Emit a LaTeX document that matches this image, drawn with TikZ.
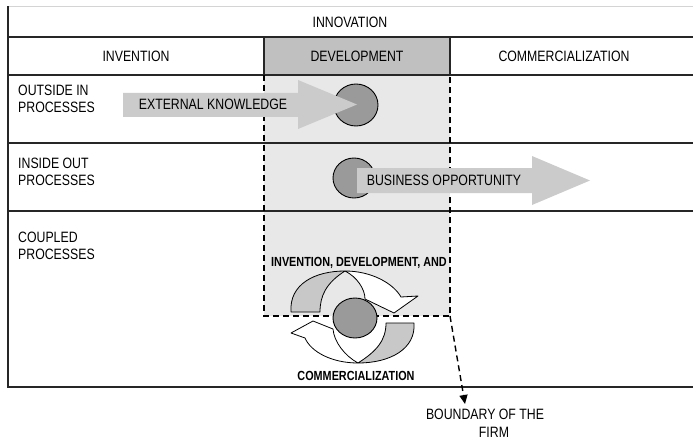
\documentclass[tikz,border=0pt]{standalone}
\usepackage{fontspec}
\setmainfont{Liberation Sans}[FakeStretch=0.82]
\usetikzlibrary{arrows.meta}
\definecolor{rule}{HTML}{262626}
\definecolor{faint}{HTML}{D4D4D4}
\definecolor{devhead}{HTML}{C0C0C0}
\definecolor{devbody}{HTML}{E8E8E8}
\definecolor{flow}{HTML}{CBCBCB}
\definecolor{firmcore}{HTML}{9A9A9A}
\definecolor{band}{HTML}{C8C8C8}
\begin{document}
\begin{tikzpicture}[x=1pt,y=-1pt,
  txt/.style={inner sep=0pt, font=\fontsize{15}{17}\selectfont},
  boldtxt/.style={inner sep=0pt, font=\fontsize{13.2}{15}\selectfont\bfseries},
  gridline/.style={draw=rule, line width=1.2pt},
  boundary/.style={draw=black, line width=1.4pt, dash pattern=on 6pt off 4pt},
  flowarrow/.style={fill=flow, draw=none},
  core/.style={fill=firmcore, draw=black, line width=0.9pt},
  ribbon/.style={draw=black, line width=0.8pt, line join=round}]
\useasboundingbox (0,0) rectangle (693,441);

% shaded development column
\fill[devhead] (264,37) rectangle (450,75);
\fill[devbody] (264,75) rectangle (450,316);

% table rules
\draw[faint, line width=1pt] (8,7) -- (693,7);
\draw[gridline] (8,37) -- (693,37);
\draw[gridline] (8,75) -- (693,75);
\draw[gridline] (8,143) -- (693,143);
\draw[gridline] (8,211) -- (693,211);
\draw[gridline] (8,387) -- (693,387);
\draw[gridline, line width=2pt] (8,6.5) -- (8,387.6);
\draw[gridline] (264,37) -- (264,75);
\draw[gridline] (450,37) -- (450,75);

% boundary of the firm
\draw[boundary] (264,75) -- (264,316) -- (450,316) -- (450,75);
\coordinate (corner) at (450,316);
\coordinate (tip) at (465,404);
\draw[boundary, -{Triangle[length=9pt,width=8pt]}] (corner) -- (tip);

% headings
\node[txt] (innovation) at (350,22) {INNOVATION};
\node[txt] (invention) at (136,56) {INVENTION};
\node[txt] (development) at (357,56) {DEVELOPMENT};
\node[txt] (commercialization) at (564,56) {COMMERCIALIZATION};

% process labels
\node[txt, anchor=west, align=left] (outin) at (18,98.5) {OUTSIDE IN\\PROCESSES};
\node[txt, anchor=west, align=left] (inout) at (18,172) {INSIDE OUT\\PROCESSES};
\node[txt, anchor=west, align=left] (coupled) at (18,245.5) {COUPLED\\PROCESSES};

% outside-in process
\draw[core] (356,105) ellipse [x radius=22pt, y radius=21pt];
\fill[flowarrow] (123,93) -- (298,93) -- (298,80) -- (357,104.5) -- (298,129) -- (298,117) -- (123,117) -- cycle;
\node[txt] (external) at (213,104) {EXTERNAL KNOWLEDGE};

% inside-out process
\draw[core] (354,178) ellipse [x radius=21pt, y radius=20pt];
\fill[flowarrow] (357,168) -- (532,168) -- (532,156) -- (590,180.5) -- (532,205) -- (532,193) -- (357,193) -- cycle;
\node[txt] (business) at (444,180) {BUSINESS OPPORTUNITY};

% coupled process: twisted cycle arrows
\draw[ribbon, fill=band] (291,312) .. controls (289,284) and (315,271) .. (345,271)
  .. controls (326,283) and (320,296) .. (320,312) -- cycle;
\draw[ribbon, fill=white] (345,271) .. controls (371,271) and (393,283) .. (401,297)
  -- (418,296) -- (394,313) -- (365,299)
  .. controls (365,289) and (357,277) .. (345,271) -- cycle;
\draw[ribbon, fill=band] (414,323) .. controls (416,349) and (390,363) .. (358,363)
  .. controls (377,351) and (386,340) .. (386,323) -- cycle;
\draw[ribbon, fill=white] (358,363) .. controls (332,363) and (311,352) .. (305,338)
  -- (291,333) -- (313,321) -- (333,329)
  .. controls (334,342) and (345,356) .. (358,363) -- cycle;
\draw[core] (355,318) ellipse [x radius=22pt, y radius=20pt];
\node[boldtxt] (coupledtop) at (359,263) {INVENTION, DEVELOPMENT, AND};
\node[boldtxt] (coupledbottom) at (356,376) {COMMERCIALIZATION};

% boundary label
\node[txt] (firmlabel) at (485,414) {BOUNDARY OF THE};
\node[txt] (firmlabelb) at (494,432) {FIRM};
\end{tikzpicture}
\end{document}
